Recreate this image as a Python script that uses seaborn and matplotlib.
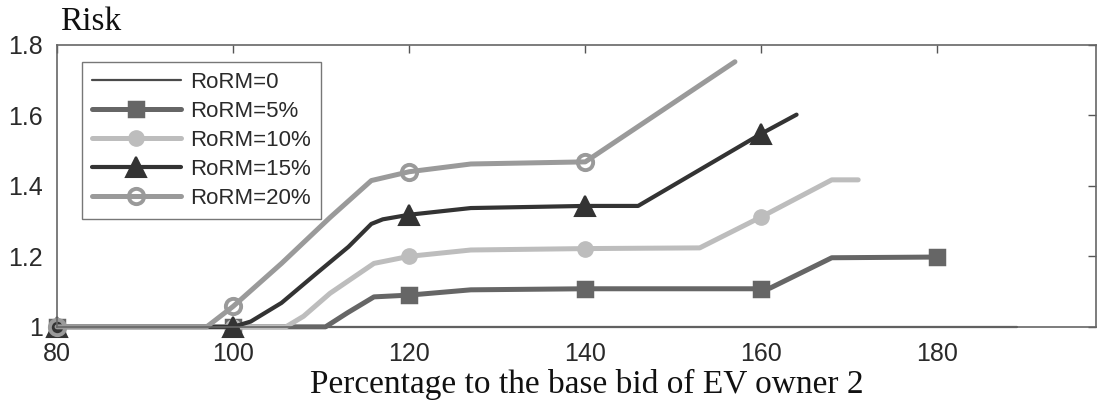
import numpy as np
import pandas as pd
import matplotlib
matplotlib.use("Agg")
import matplotlib.pyplot as plt
from matplotlib.lines import Line2D
import seaborn as sns

# ---- data ----
labels = ["RoRM=0", "RoRM=5%", "RoRM=10%", "RoRM=15%", "RoRM=20%"]

x0 = [80, 189]
y0 = [1.0, 1.0]

x5 = [80, 100, 110.5, 113, 116, 120, 127, 140, 160, 161, 168, 180]
y5 = [1.0, 1.0, 1.0, 1.04, 1.085, 1.09, 1.105, 1.108, 1.108, 1.11, 1.196, 1.198]

x10 = [80, 100, 106, 108, 111, 116, 120, 127, 140, 153, 160, 168, 171]
y10 = [1.0, 1.0, 1.0, 1.03, 1.095, 1.18, 1.2, 1.218, 1.222, 1.224, 1.312, 1.417, 1.417]

x15 = [80, 100, 102, 105.5, 109.3, 113.1, 115.7, 117, 120, 127, 140, 146, 160, 164]
y15 = [1.0, 1.0, 1.015, 1.068, 1.148, 1.227, 1.292, 1.305, 1.318, 1.337, 1.343, 1.343, 1.548, 1.602]

x20 = [80, 97, 100, 105.5, 111, 115.7, 120, 127, 140, 157]
y20 = [1.0, 1.0, 1.058, 1.18, 1.31, 1.415, 1.44, 1.462, 1.468, 1.752]

xticks = [80, 100, 120, 140, 160, 180]
yticks = [1.0, 1.2, 1.4, 1.6, 1.8]
ytick_labels = ["1", "1.2", "1.4", "1.6", "1.8"]
marker_x = [80, 100, 120, 140, 160, 180]

series_x = [x0, x5, x10, x15, x20]
series_y = [y0, y5, y10, y15, y20]

# ---- styles ----
colors = ["#4a4a4a", "#666666", "#bdbdbd", "#333333", "#9a9a9a"]
markers = [None, "s", "o", "^", "o"]
lws = [1.6, 3.6, 3.6, 3.0, 3.6]
msizes = [0, 10, 11, 14, 11]
mfcs = [None, "#666666", "#bdbdbd", "#333333", "none"]
mews = [0, 2.5, 1, 1.5, 2.8]

sns.set_style("white")
plt.rcParams["font.family"] = ["Liberation Sans", "DejaVu Sans"]
serif = ["Liberation Serif", "DejaVu Serif"]

fig = plt.figure(figsize=(10.97, 4.04), dpi=100)
ax = fig.add_axes([0.052, 0.191, 0.947, 0.698])

handles = []
for i in range(5):
    df = pd.DataFrame({"x": series_x[i], "y": series_y[i]})
    kw = dict(color=colors[i], linewidth=lws[i], ax=ax, legend=False, clip_on=False)
    if markers[i] is not None:
        idx = [j for j, v in enumerate(series_x[i]) if v in marker_x]
        kw.update(marker=markers[i], markersize=msizes[i], markevery=idx,
                  markerfacecolor=mfcs[i], markeredgecolor=colors[i],
                  markeredgewidth=mews[i])
    sns.lineplot(data=df, x="x", y="y", sort=False, estimator=None, **kw)
    h = Line2D([], [], color=colors[i], linewidth=lws[i])
    if markers[i] is not None:
        h.set_marker(markers[i])
        h.set_markersize(msizes[i])
        h.set_markerfacecolor(mfcs[i])
        h.set_markeredgecolor(colors[i])
        h.set_markeredgewidth(mews[i])
    handles.append(h)

ax.set_xlim(80, 198)
ax.set_ylim(1.0, 1.8)
ax.set_xticks(xticks)
ax.set_xticklabels([str(v) for v in xticks])
ax.set_yticks(yticks)
ax.set_yticklabels(ytick_labels)
ax.tick_params(direction="in", top=True, right=True, length=6, width=1,
               color="#555555", labelsize=18, labelcolor="#2a2a2a")
ax.tick_params(axis="x", pad=11)
ax.tick_params(axis="y", pad=10)
for s in ax.spines.values():
    s.set_color("#666666")
    s.set_linewidth(1.2)
ax.set_xlabel("Percentage to the base bid of EV owner 2",
              family=serif, fontsize=24, color="#111111", va="baseline")
ax.xaxis.set_label_coords(0.51, -0.235)
ax.set_ylabel("")
fig.text(0.055, 0.925, "Risk", family=serif, fontsize=24,
         ha="left", va="baseline", color="#111111")

leg = ax.legend(handles, labels, loc="upper left", bbox_to_anchor=(0.024, 0.94),
                fontsize=16, handlelength=4.0, frameon=True, fancybox=False,
                borderpad=0.45, labelspacing=0.36, handletextpad=0.4,
                borderaxespad=0)
leg.get_frame().set_edgecolor("#555555")
leg.get_frame().set_linewidth(1.0)
for t in leg.get_texts():
    t.set_color("#2a2a2a")

fig.savefig("out.png", dpi=100)
